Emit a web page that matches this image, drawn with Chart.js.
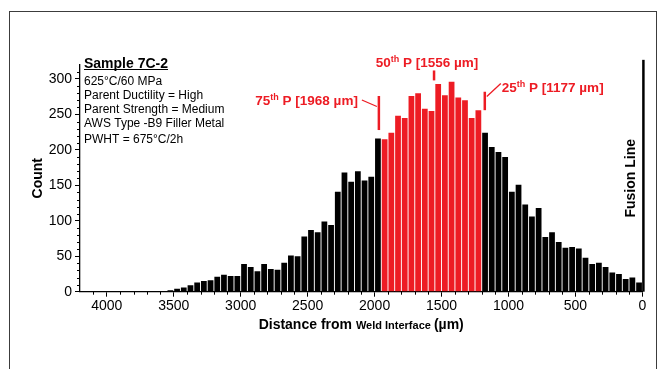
<!DOCTYPE html>
<html><head><meta charset="utf-8">
<script src="https://cdn.jsdelivr.net/npm/chart.js@4.4.1/dist/chart.umd.min.js"></script>
<style>
html,body{margin:0;padding:0;background:#fff;}
#wrap{position:relative;width:668px;height:369px;overflow:hidden;background:#fff;}
#frame{position:absolute;left:9px;top:11px;width:648px;height:420px;border:1.5px solid #3c3c3c;box-sizing:border-box;}
canvas{position:absolute;left:0;top:0;}
</style></head>
<body><div id="wrap"><div id="frame"></div><canvas id="c" width="668" height="369"></canvas></div>
<script>
// ---- data (distance bins in µm, counts) ----
const binWidthUm = 50;
const binStartsUm = [0,50,100,150,200,250,300,350,400,450,500,550,600,650,700,750,800,850,900,950,
  1000,1050,1100,1150,1200,1250,1300,1350,1400,1450,1500,1550,1600,1650,1700,1750,1800,1850,1900,1950,
  2000,2050,2100,2150,2200,2250,2300,2350,2400,2450,2500,2550,2600,2650,2700,2750,2800,2850,2900,2950,
  3000,3050,3100,3150,3200,3250,3300,3350,3400,3450,3500];
const counts = [13,20,18,25,27,35,41,39,48,61,63,62,70,84,77,118,106,123,151,141,
  190,197,204,224,256,245,270,274,296,277,293,255,258,280,276,245,248,224,215,216,
  162,157,170,155,168,141,94,99,84,87,78,50,51,41,31,32,39,29,35,39,
  22,22,24,21,16,15,13,9,6,4,2];
const interquartileUm = [1200, 1950];
const percentileNames = ['75', '50', '25'];
const percentileValuesUm = [1968, 1556, 1177];
const xTickValues = [0,500,1000,1500,2000,2500,3000,3500,4000];
const yTickValues = [0,50,100,150,200,250,300];
const sampleTitle = 'Sample 7C-2';
const sampleInfo = ['625\u00B0C/60 MPa','Parent Ductility = High','Parent Strength = Medium','AWS Type -B9 Filler Metal','PWHT = 675\u00B0C/2h'];

const FONT = "'Liberation Sans', Arial, sans-serif";
const RED = '#ed1c24';

const points = binStartsUm.map((s,i)=>({x: s + binWidthUm/2, y: counts[i]}));
const colors = binStartsUm.map(s => (s >= interquartileUm[0] && s < interquartileUm[1]) ? RED : '#000');

function richWidth(ctx, parts){
  let w = 0;
  for (const p of parts){ ctx.font = `bold ${p.size}px ${FONT}`; w += ctx.measureText(p.t).width; }
  return w;
}
function drawRich(ctx, parts, x, baseline){
  let cx = x;
  for (const p of parts){
    ctx.font = `bold ${p.size}px ${FONT}`;
    ctx.fillText(p.t, cx, baseline - (p.rise||0));
    cx += ctx.measureText(p.t).width;
  }
}
function pctParts(name, val){
  return [{t:name,size:13.5},{t:'th',size:9,rise:5},{t:' P ['+val+' \u00B5m]',size:13.5}];
}

const overlay = {
  id:'overlay',
  afterDraw(chart){
    const {ctx, scales:{x,y}} = chart;
    ctx.save();
    // minor ticks
    ctx.strokeStyle = '#000'; ctx.lineWidth = 1;
    const yb = y.getPixelForValue(0);
    for (let v = 100; v <= 4100; v += 100){
      if (v % 500 === 0) continue;
      const px = Math.round(x.getPixelForValue(v)) + 0.5;
      ctx.beginPath(); ctx.moveTo(px, yb); ctx.lineTo(px, yb + 3); ctx.stroke();
    }
    const xl = x.getPixelForValue(4200);
    for (let v = 10; v <= 310; v += 10){
      if (v % 50 === 0) continue;
      const py = Math.round(y.getPixelForValue(v)) + 0.5;
      ctx.beginPath(); ctx.moveTo(xl, py); ctx.lineTo(xl - 3, py); ctx.stroke();
    }
    // fusion line
    const fx = x.getPixelForValue(0) + 1;
    ctx.lineWidth = 2.5;
    ctx.beginPath(); ctx.moveTo(fx, y.getPixelForValue(327)); ctx.lineTo(fx, yb); ctx.stroke();
    ctx.fillStyle = '#000';
    ctx.save();
    ctx.translate(fx - 8, (y.top + yb)/2);
    ctx.rotate(-Math.PI/2);
    ctx.font = `bold 14px ${FONT}`; ctx.textAlign = 'center'; ctx.textBaseline = 'alphabetic';
    ctx.fillText('Fusion Line', 0, 0);
    ctx.restore();
    // y title
    ctx.save();
    ctx.translate(42, (y.top + yb)/2);
    ctx.rotate(-Math.PI/2);
    ctx.font = `bold 14px ${FONT}`; ctx.textAlign = 'center';
    ctx.fillText('Count', 0, 0);
    ctx.restore();
    // x title (mixed sizes)
    const tparts = [{t:'Distance from ',size:14},{t:'Weld Interface ',size:11},{t:'(\u00B5m)',size:14}];
    const tw = richWidth(ctx, tparts);
    ctx.textAlign = 'left';
    drawRich(ctx, tparts, (x.left + x.right)/2 - tw/2, 329);
    // sample info
    ctx.font = `bold 14px ${FONT}`;
    ctx.fillText(sampleTitle, 84, 67.5);
    const sw = ctx.measureText(sampleTitle).width;
    ctx.lineWidth = 1.2; ctx.beginPath(); ctx.moveTo(84, 69.5); ctx.lineTo(84 + sw, 69.5); ctx.stroke();
    ctx.font = `12px ${FONT}`;
    const baselines = [84.5, 98.5, 112.5, 126.5, 142.5];
    sampleInfo.forEach((t,i)=>ctx.fillText(t, 84, baselines[i]));
    // percentile annotations
    ctx.fillStyle = RED; ctx.strokeStyle = RED;
    const mx = percentileValuesUm.map(v => x.getPixelForValue(v));
    // 75th
    ctx.lineWidth = 2.5;
    ctx.beginPath(); ctx.moveTo(mx[0], y.getPixelForValue(276)); ctx.lineTo(mx[0], y.getPixelForValue(228)); ctx.stroke();
    ctx.lineWidth = 1.3;
    ctx.beginPath(); ctx.moveTo(mx[0]-17, 100); ctx.lineTo(mx[0]-2, 106.5); ctx.stroke();
    let p = pctParts(percentileNames[0], percentileValuesUm[0]);
    drawRich(ctx, p, mx[0] - 21 - richWidth(ctx, p), 104.5);
    // 50th
    ctx.lineWidth = 2.5;
    ctx.beginPath(); ctx.moveTo(mx[1], y.getPixelForValue(312)); ctx.lineTo(mx[1], y.getPixelForValue(298)); ctx.stroke();
    p = pctParts(percentileNames[1], percentileValuesUm[1]);
    drawRich(ctx, p, mx[1] - 7 - richWidth(ctx, p)/2, 66.5);
    // 25th
    ctx.beginPath(); ctx.moveTo(mx[2], y.getPixelForValue(282)); ctx.lineTo(mx[2], y.getPixelForValue(256)); ctx.stroke();
    ctx.lineWidth = 1.3;
    ctx.beginPath(); ctx.moveTo(mx[2]+2, 96.5); ctx.lineTo(mx[2]+16, 83.5); ctx.stroke();
    p = pctParts(percentileNames[2], percentileValuesUm[2]);
    drawRich(ctx, p, mx[2] + 17, 91.5);
    ctx.restore();
  }
};

new Chart(document.getElementById('c'), {
  type: 'bar',
  data: { datasets: [{ data: points, backgroundColor: colors, borderWidth: 0,
    barPercentage: 0.86, categoryPercentage: 1.0 }] },
  options: {
    responsive: false, animation: false, devicePixelRatio: 1,
    layout: { padding: { left: 0, right: 25.6, top: 64.8, bottom: 0 } },
    plugins: { legend: { display: false }, tooltip: { enabled: false } },
    scales: {
      x: { type: 'linear', reverse: true, min: 0, max: 4200, offset: false,
        afterBuildTicks: s => { s.ticks = xTickValues.map(v => ({ value: v })); },
        afterFit: s => { s.height = 77.3; },
        ticks: { font: { family: FONT, size: 14 }, color: '#000', padding: 1, maxRotation: 0, autoSkip: false,
          callback: v => String(v) },
        grid: { display: true, offset: false, drawOnChartArea: false, drawTicks: true, tickLength: 5, color: '#000', lineWidth: 1 },
        border: { display: true, color: '#000', width: 1.3 } },
      y: { type: 'linear', min: 0, max: 320,
        afterBuildTicks: s => { s.ticks = yTickValues.map(v => ({ value: v })); },
        afterFit: s => { s.width = 80; },
        ticks: { font: { family: FONT, size: 14 }, color: '#000', padding: 3, callback: v => String(v) },
        grid: { display: true, drawOnChartArea: false, drawTicks: true, tickLength: 5, color: '#000', lineWidth: 1 },
        border: { display: true, color: '#000', width: 1.3 } }
    }
  },
  plugins: [overlay]
});
</script>
</body></html>
